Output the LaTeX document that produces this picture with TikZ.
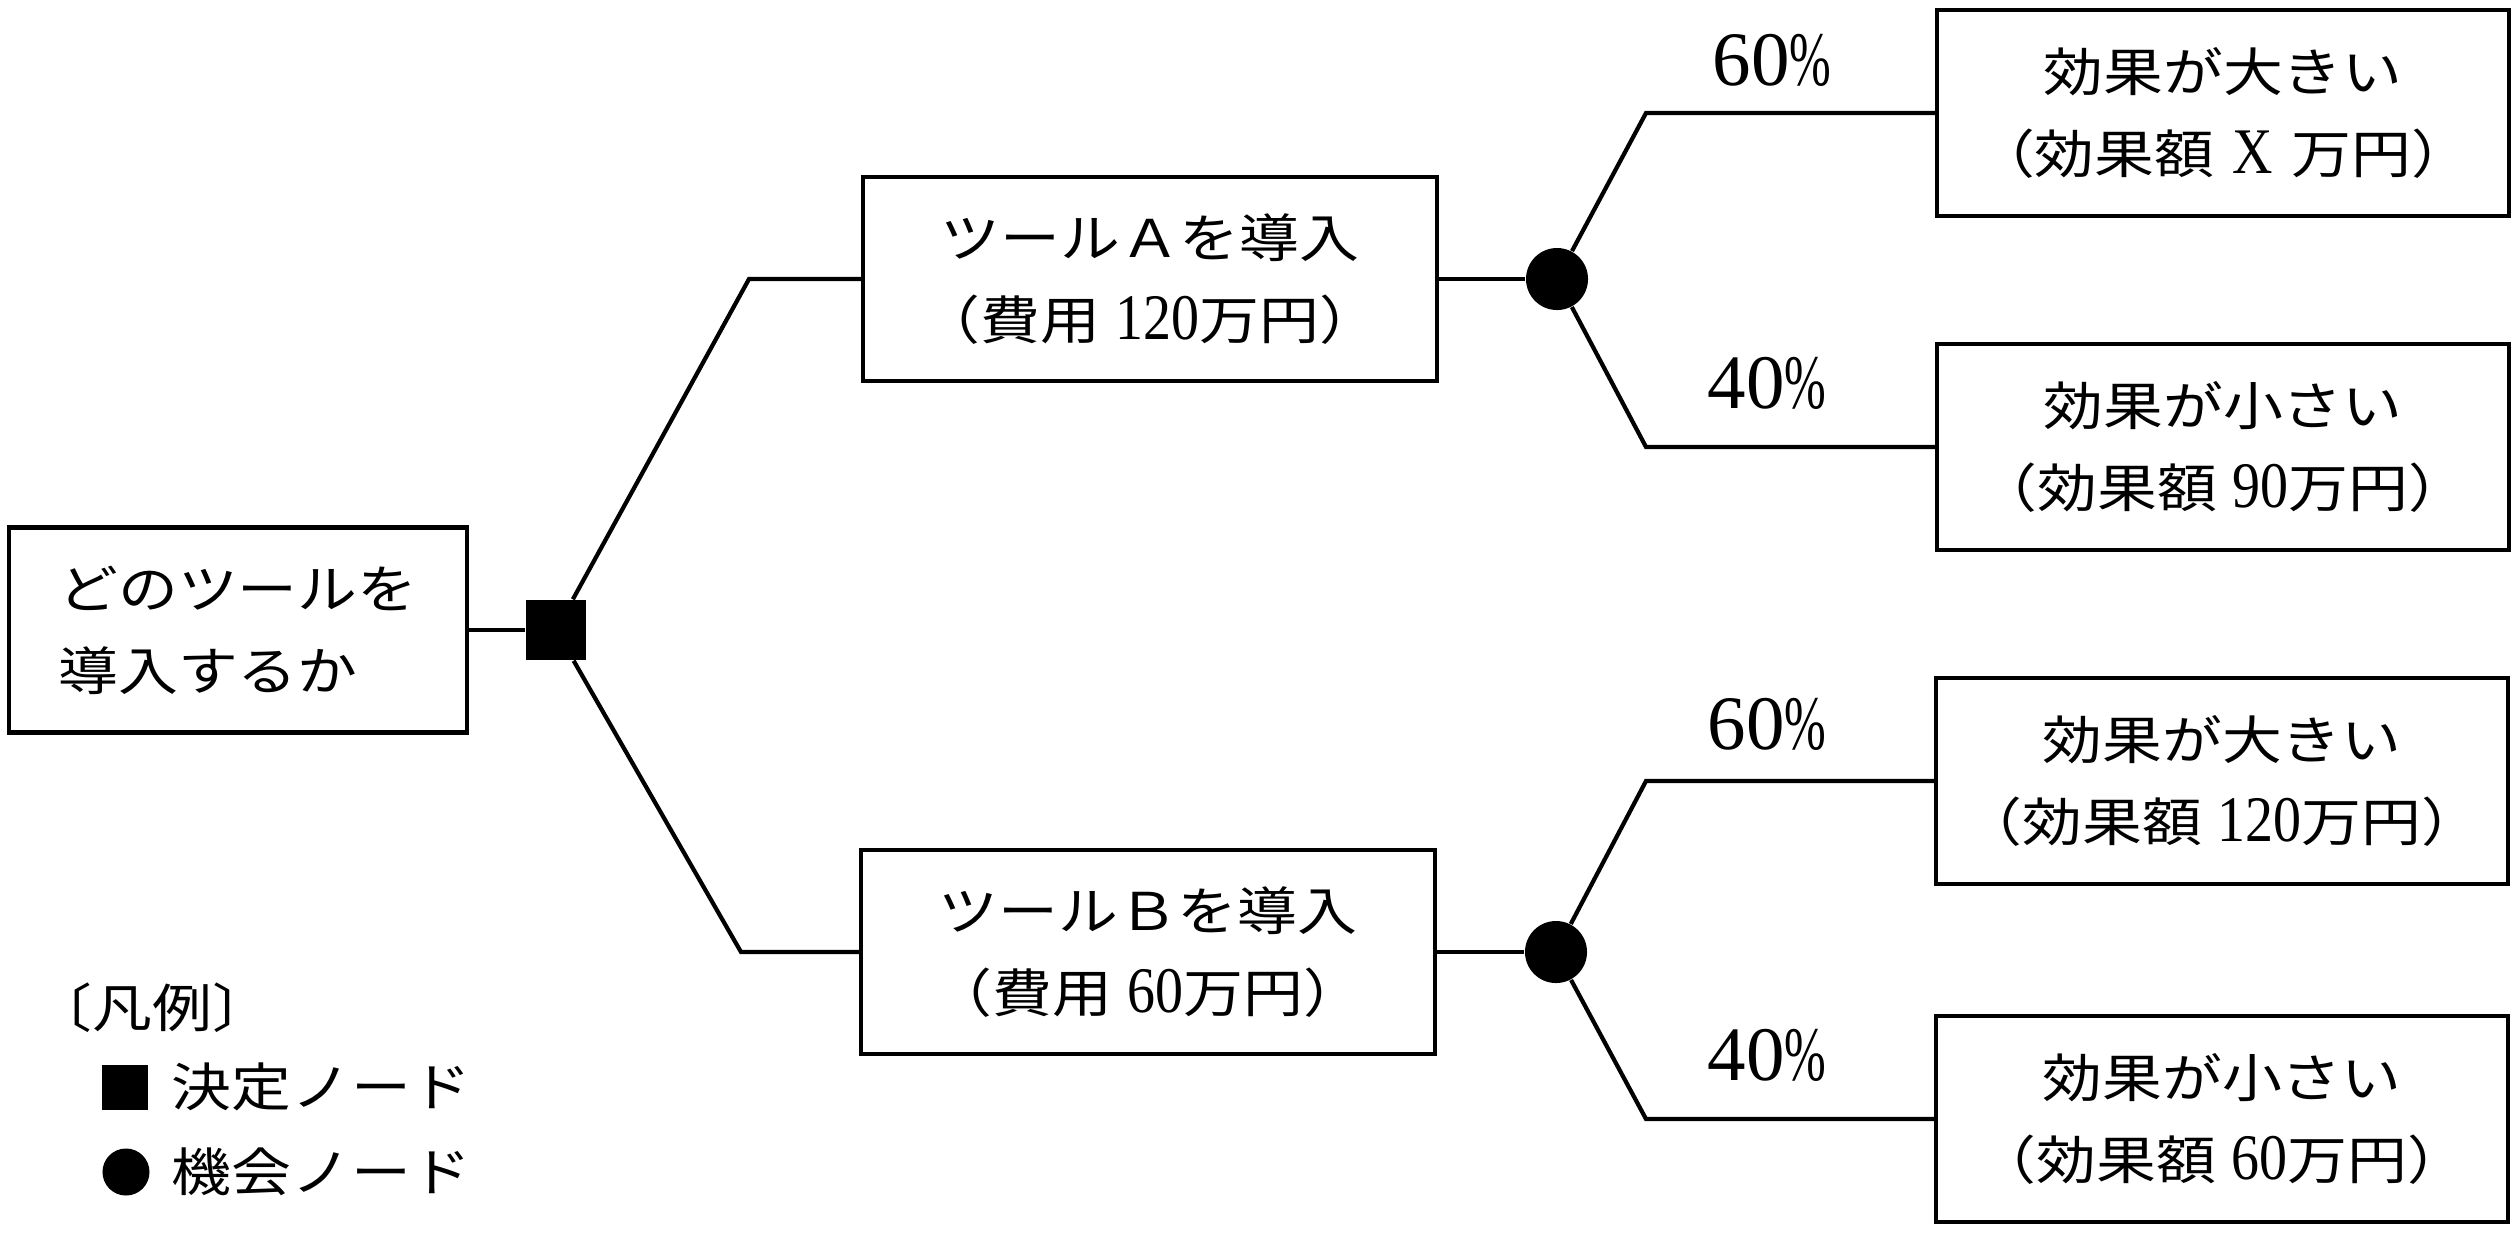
\documentclass[tikz,border=0pt]{standalone}
\usepackage{fontspec}
\usepackage{graphicx}
\setmainfont{Noto Sans CJK JP}[FakeStretch=1.15]
\newfontfamily\numfont{Liberation Serif}[FakeStretch=0.86]
\newfontfamily\labfont{Liberation Serif}
\newcommand\boxfont{\fontsize{14.8pt}{23.3pt}\selectfont}
\newcommand\nm[1]{{\numfont\fontsize{18.5pt}{23.3pt}\selectfont #1}}
\newcommand\probtxt[1]{{\labfont\fontsize{21.9pt}{26pt}\selectfont #1\scalebox{0.65}[1]{\%}}}
\tikzset{
  box/.style={draw, line width=1.2pt, inner sep=0pt, align=center, font=\boxfont},
  midbox/.style={box, minimum width=5.73cm, minimum height=2.04cm},
  outbox/.style={box, minimum width=5.71cm, minimum height=2.06cm},
  rootbox/.style={box, align=left, minimum width=4.58cm, minimum height=2.05cm},
  conn/.style={line width=1.2pt},
  decnode/.style={rectangle, fill=black, minimum size=0.6cm, inner sep=0pt},
  chnode/.style={circle, fill=black, minimum size=0.62cm, inner sep=0pt},
  problabel/.style={inner sep=0pt},
  legtext/.style={inner sep=0pt, anchor=west, font=\boxfont}
}
\begin{document}
\begin{tikzpicture}[x=0.01cm,y=-0.01cm]
\useasboundingbox (0,0) rectangle (2518,1232);
% nodes
\node[rootbox] (root) at (238,630) {どのツールを\\導入するか};
\node[decnode] (dec) at (556,630) {};
\node[midbox] (boxA) at (1150,279) {ツールＡを導入\\（費用\hspace{0.3em}\nm{120}万円）};
\node[midbox] (boxB) at (1148,952) {ツールＢを導入\\（費用\hspace{0.3em}\nm{60}万円）};
\node[chnode] (chA) at (1557,279) {};
\node[chnode] (chB) at (1556,952) {};
\node[outbox] (o1) at (2223,113) {効果が大きい\\（効果額\hspace{0.35em}\nm{X}\hspace{0.35em}万円）};
\node[outbox] (o2) at (2223,447) {効果が小さい\\（効果額\hspace{0.3em}\nm{90}万円）};
\node[outbox] (o3) at (2222,781) {効果が大きい\\（効果額\hspace{0.3em}\nm{120}万円）};
\node[outbox] (o4) at (2222,1119) {効果が小さい\\（効果額\hspace{0.3em}\nm{60}万円）};
% bend points
\coordinate (a1) at (749,279);
\coordinate (b1) at (741,952);
\coordinate (pA1) at (1646,113);
\coordinate (pA2) at (1646,447);
\coordinate (pB1) at (1646,781);
\coordinate (pB2) at (1646,1119);
% connectors
\draw[conn] (root.east) -- (dec.west);
\draw[conn] (dec) -- (a1) -- (boxA.west);
\draw[conn] (dec) -- (b1) -- (boxB.west);
\draw[conn] (boxA.east) -- (chA.west);
\draw[conn] (boxB.east) -- (chB.west);
\draw[conn] (chA) -- (pA1) -- (o1.west);
\draw[conn] (chA) -- (pA2) -- (o2.west);
\draw[conn] (chB) -- (pB1) -- (o3.west);
\draw[conn] (chB) -- (pB2) -- (o4.west);
% probabilities
\node[problabel] (lA1) at (1772,60) {\probtxt{60}};
\node[problabel] (lA2) at (1767,383) {\probtxt{40}};
\node[problabel] (lB1) at (1767,724) {\probtxt{60}};
\node[problabel] (lB2) at (1767,1055) {\probtxt{40}};
% legend
\node[legtext] (legtitle) at (32,1008) {〔凡例〕};
\node[decnode, minimum size=0.45cm] (legsq) at (125,1087) {};
\node[legtext] (legsqt) at (171,1087) {決定ノード};
\node[chnode, minimum size=0.47cm] (legci) at (126,1172) {};
\node[legtext] (legcit) at (171,1172) {機会ノード};
\end{tikzpicture}
\end{document}
